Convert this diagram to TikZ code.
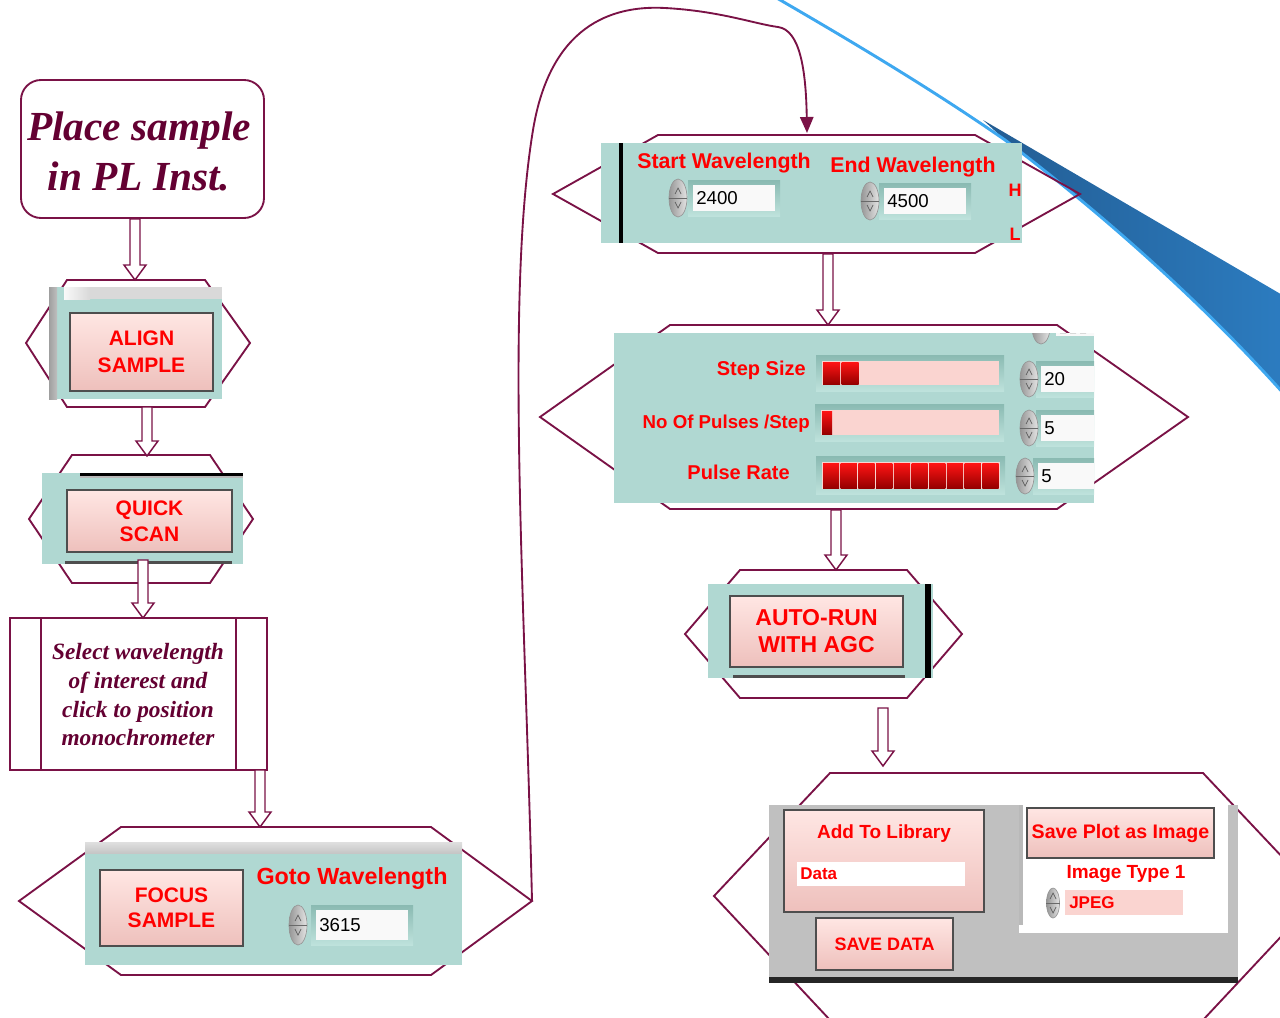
\documentclass[tikz,border=0pt]{standalone}
\usepackage{fontspec}
\setmainfont{Liberation Serif}
\newfontfamily\lvfont{Liberation Sans}
\usetikzlibrary{arrows.meta,calc,shapes.geometric}
\definecolor{mar}{RGB}{122,18,70}
\definecolor{martext}{RGB}{100,0,50}
\definecolor{lvteal}{RGB}{176,216,210}
\definecolor{lvtealdk}{RGB}{138,186,178}
\definecolor{lvteallt}{RGB}{190,226,220}
\definecolor{lvpink}{RGB}{250,212,208}
\definecolor{lvpinklt}{RGB}{255,230,227}
\definecolor{lvpinkdk}{RGB}{238,192,188}
\definecolor{lvred}{RGB}{255,0,0}
\definecolor{lvgray}{RGB}{192,192,192}
\definecolor{btnedge}{RGB}{78,78,78}
\definecolor{fieldwh}{RGB}{249,249,249}
\definecolor{bluedark}{RGB}{34,92,146}
\definecolor{bluemid}{RGB}{44,124,192}
\definecolor{bluelight}{RGB}{62,168,240}
\definecolor{ledhi}{RGB}{255,20,20}
\definecolor{ledlo}{RGB}{150,0,0}
\definecolor{spinlt}{RGB}{228,228,228}
\definecolor{spindk}{RGB}{150,150,150}

\tikzset{
  hexline/.style={draw=mar, line width=1.4pt, line join=miter},
  blockarr/.style={draw=mar, fill=white, line width=1.1pt, line join=miter},
  flowbox/.style={draw=mar, line width=1.4pt, fill=white},
  flowtxt/.style={text=martext, align=center, inner sep=0pt},
  lvbtn/.style={rectangle, draw=btnedge, line width=1.8pt, top color=lvpinklt, bottom color=lvpinkdk, text=lvred, align=center, inner sep=0pt},
  fsz/.style 2 args={font=\lvfont\bfseries\fontsize{#1}{#2}\selectfont},
  lvlabel/.style={text=lvred, inner sep=0pt},
  numtxt/.style={font=\lvfont\fontsize{14}{16}\selectfont, text=black, inner sep=0pt, anchor=west},
  spin/.style={ellipse, draw=spindk, line width=0.5pt, left color=spindk, right color=spinlt, inner sep=0pt},
  curvearr/.style={draw=mar, line width=1.4pt, -{Triangle[length=12pt,width=10pt]}},
}
\newcommand\blkarrow[2]{%
  \draw[blockarr] ($(#2|-#1)+(-5,0)$) -- ($(#2)+(-5,-15)$) -- ($(#2)+(-11,-15)$) -- (#2)
   -- ($(#2)+(11,-15)$) -- ($(#2)+(5,-15)$) -- ($(#2|-#1)+(5,0)$) -- cycle;}
\newcommand\lvspinner[5]{%
  \node[spin, minimum width=#4, minimum height=#5] (#1) at (#2,#3) {};
  \draw[spindk!70!black, line width=0.4pt] (#1.west) -- (#1.east);
  \draw[spindk!60!black, line width=0.5pt] ($(#1.center)+(-3,-4)$) -- ($(#1.center)+(0,-10)$) -- ($(#1.center)+(3,-4)$);
  \draw[spindk!60!black, line width=0.5pt] ($(#1.center)+(-3,4)$) -- ($(#1.center)+(0,10)$) -- ($(#1.center)+(3,4)$);}
\newcommand\lvfield[7]{%
  \shade[top color=lvtealdk, bottom color=lvteallt] (#2-5,#3-5) rectangle (#4+5,#5+5);
  \fill[fieldwh] (#2,#3) rectangle (#4,#5);
  \node[numtxt] (#1) at (#2+3,#6) {#7};}

\begin{document}
\begin{tikzpicture}[x=0.75pt,y=-0.75pt]
\useasboundingbox (0,0) rectangle (1280,1017);
% decorative swoosh
\shade[left color=bluedark, right color=bluemid] (983,120) -- (1284,296) -- (1284,393) .. controls (1200,300) and (1100,212) .. (1005,140) -- cycle;
\draw[bluelight, line width=2.2pt] (775,-3) .. controls (870,52) and (940,95) .. (1005,140) .. controls (1100,212) and (1200,300) .. (1284,394);

% hexagons
\draw[hexline] (67,280) -- (205,280) -- (250,343) -- (205,407) -- (67,407) -- (26,343) -- cycle;
\coordinate (alignT) at (135,280);
\coordinate (alignB) at (147,407);
\draw[hexline] (72,455) -- (210,455) -- (253,519) -- (210,583) -- (72,583) -- (29,519) -- cycle;
\coordinate (quickT) at (147,456);
\coordinate (quickB) at (143,560);
\draw[hexline] (121,827) -- (431,827) -- (532,901) -- (431,975) -- (121,975) -- (19,901) -- cycle;
\coordinate (focusT) at (260,827);
\coordinate (focusR) at (532,901);
\draw[hexline] (658,135) -- (975,135) -- (1080,194) -- (975,253) -- (658,253) -- (553,194) -- cycle;
\coordinate (rangeT) at (807,133);
\coordinate (rangeB) at (828,254);
\draw[hexline] (670,325) -- (1057,325) -- (1188,417) -- (1057,509) -- (670,509) -- (540,417) -- cycle;
\coordinate (stepT) at (828,325);
\coordinate (stepB) at (836,510);
\draw[hexline] (740,570) -- (907,570) -- (962,634) -- (907,698) -- (740,698) -- (685,634) -- cycle;
\coordinate (autoT) at (836,570);
\coordinate (autoB) at (883,708);
\draw[hexline] (830,773) -- (1203,773) -- (1319,896) -- (1203,1020) -- (830,1020) -- (714,896) -- cycle;
\coordinate (saveT) at (883,766);

% flow boxes
\node[flowbox, rounded corners=15pt, minimum width=182.25pt, minimum height=103.5pt] (place) at (142.5,149) {};
\node[flowtxt, font=\bfseries\itshape\fontsize{31}{37.5}\selectfont] (placetxt) at (139,151) {Place sample\\in PL Inst.};
\coordinate (placeB) at (135,219);
\node[flowbox, minimum width=192.75pt, minimum height=114pt] (select) at (138.5,694) {};
\draw[mar, line width=1.4pt] ($(select.north west)+(32,0)$) -- ($(select.south west)+(32,0)$)
  ($(select.north east)+(-32,0)$) -- ($(select.south east)+(-32,0)$);
\node[flowtxt, font=\bfseries\itshape\fontsize{17.5}{21.5}\selectfont] (selecttxt) at (138,695) {Select wavelength\\of interest and\\click to position\\monochrometer};
\coordinate (selT) at (143,618);
\coordinate (selB) at (260,770);

% ALIGN panel
\fill[lvteal] (49,287) rectangle (222,399);
\shade[left color=gray!75, right color=gray!50] (49,287) rectangle (57,399);
\shade[left color=gray!5, right color=gray!30] (64,287) rectangle (90,299);
\fill[gray!30] (90,287) rectangle (222,299);
\node[lvbtn, fsz={15.75}{20.25}, minimum width=107.25pt, minimum height=58.5pt] (alignbtn) at (141.5,352) {ALIGN\\SAMPLE};

% QUICK panel
\fill[lvteal] (42,473) rectangle (243,564);
\fill[black] (80,473) rectangle (243,476);
\fill[gray!55] (80,476) rectangle (243,478);
\fill[btnedge] (65,561) rectangle (232,564);
\node[lvbtn, fsz={15.75}{19.5}, minimum width=123.75pt, minimum height=46.5pt] (quickbtn) at (149.5,521) {QUICK\\SCAN};

% FOCUS panel
\fill[lvteal] (85,842) rectangle (462,965);
\shade[top color=gray!25, bottom color=gray!45] (85,842) rectangle (462,853);
\node[lvbtn, fsz={15.75}{18.75}, minimum width=107.25pt, minimum height=57pt] (focusbtn) at (171.5,908) {FOCUS\\SAMPLE};
\node[lvlabel, fsz={17.5}{20}] (gotolbl) at (352,879) {Goto Wavelength};
\lvfield{gotonum}{316}{910}{408}{940}{925}{3615}
\lvspinner{gotospin}{298}{925}{13.5pt}{30pt}

% Start / End panel
\fill[lvteal] (601,143) rectangle (1022,243);
\fill[black] (619,143) rectangle (623,243);
\node[lvlabel, fsz={16}{19}] (startlbl) at (724,163) {Start Wavelength};
\node[lvlabel, fsz={16}{19}] (endlbl) at (913,167) {End Wavelength};
\lvfield{startnum}{693}{185}{775}{211}{198}{2400}
\lvspinner{startspin}{678}{198}{13.5pt}{28.5pt}
\lvfield{endnum}{884}{188}{966}{214}{201}{4500}
\lvspinner{endspin}{870}{201}{13.5pt}{28.5pt}
\node[lvlabel, fsz={13.5}{16}] (hlbl) at (1015,190) {H};
\node[lvlabel, fsz={13.5}{16}] (llbl) at (1015,234) {L};

% Step panel
\begin{scope}
\clip (614,333) rectangle (1094,503);
\fill[lvteal] (614,333) rectangle (1094,503);
\fill[fieldwh] (1056,318) rectangle (1100,336);
\node[spin, minimum width=13.5pt, minimum height=25.5pt] (topspin) at (1041,327) {};
\fill[black] (1060,331) rectangle (1066,333) (1070,331) rectangle (1076,333) (1080,331) rectangle (1086,333);
\shade[top color=lvtealdk, bottom color=lvteallt] (816,355) rectangle (1004,391);
\fill[lvpink] (822,361) rectangle (999,385);
\foreach \i in {0,1} \shade[top color=ledhi, bottom color=ledlo] ({823+\i*18.5},362) rectangle ({840+\i*18.5},384);
\shade[top color=lvtealdk, bottom color=lvteallt] (815,404) rectangle (1004,441);
\fill[lvpink] (821,410) rectangle (999,435);
\shade[top color=ledhi, bottom color=ledlo] (822,411) rectangle (832,434);
\shade[top color=lvtealdk, bottom color=lvteallt] (816,456) rectangle (1005,494);
\fill[lvpink] (822,462) rectangle (1000,489);
\foreach \i in {0,...,9} \shade[top color=ledhi, bottom color=ledlo] ({823+\i*17.7},463) rectangle ({839.2+\i*17.7},488);
\node[lvlabel, fsz={15}{18}, anchor=east] (steplbl) at (806,370) {Step Size};
\node[lvlabel, fsz={14}{17}, anchor=east] (pulselbl) at (810,424) {No Of Pulses /Step};
\node[lvlabel, fsz={15}{18}, anchor=east] (ratelbl) at (790,472) {Pulse Rate};
\lvfield{stepnum}{1041}{366}{1100}{392}{379}{20}
\lvspinner{stepspin}{1029}{379}{13.5pt}{27pt}
\lvfield{pulsenum}{1041}{415}{1100}{441}{428}{5}
\lvspinner{pulsespin}{1029}{428}{13.5pt}{27pt}
\lvfield{ratenum}{1038}{463}{1100}{489}{476}{5}
\lvspinner{ratespin}{1025}{476}{13.5pt}{27pt}
\end{scope}

% AUTO-RUN panel
\fill[lvteal] (708,584) rectangle (933,678);
\fill[black] (925,584) rectangle (931,678);
\fill[btnedge] (733,675) rectangle (905,678);
\node[lvbtn, fsz={17.25}{20.25}, minimum width=129.75pt, minimum height=53.25pt] (autobtn) at (816.5,631.5) {AUTO-RUN\\WITH AGC};

% SAVE panel
\fill[lvgray] (769,805) rectangle (1238,983);
\fill[black!85] (769,977) rectangle (1238,983);
\fill[white] (1019,805) rectangle (1228,933);
\fill[gray!55] (1019,805) rectangle (1023,925);
\node[lvbtn, minimum width=150pt, minimum height=76.5pt] (libbtn) at (884,861) {};
\node[lvlabel, fsz={14.25}{17}] (liblbl) at (884,834) {Add To Library};
\fill[white] (797,862) rectangle (965,886);
\node[lvlabel, fsz={12.75}{15}, anchor=west] (datatxt) at (800,874) {Data};
\node[lvbtn, fsz={13.5}{16}, minimum width=102.75pt, minimum height=39pt] (savebtn) at (884.5,944) {SAVE DATA};
\node[lvbtn, fsz={14.7}{17}, minimum width=140.25pt, minimum height=37.5pt] (plotbtn) at (1120.5,833) {Save Plot as Image};
\node[lvlabel, fsz={14.25}{17}] (imglbl) at (1126,874) {Image Type 1};
\fill[lvpink] (1065,890) rectangle (1183,915);
\node[lvlabel, fsz={12.75}{15}, anchor=west] (jpegtxt) at (1069,903) {JPEG};
\lvspinner{imgspin}{1053}{903}{9.75pt}{22.5pt}

% connectors
\blkarrow{placeB}{alignT}
\blkarrow{alignB}{quickT}
\blkarrow{quickB}{selT}
\blkarrow{selB}{focusT}
\blkarrow{rangeB}{stepT}
\blkarrow{stepB}{autoT}
\blkarrow{autoB}{saveT}
\draw[curvearr] (focusR) .. controls (525,600) and (505,300) .. (533,130) .. controls (550,27) and (610,5) .. (665,8) .. controls (720,11) and (755,24) .. (778,27) .. controls (800,30) and (806,70) .. (rangeT);
\end{tikzpicture}
\end{document}
